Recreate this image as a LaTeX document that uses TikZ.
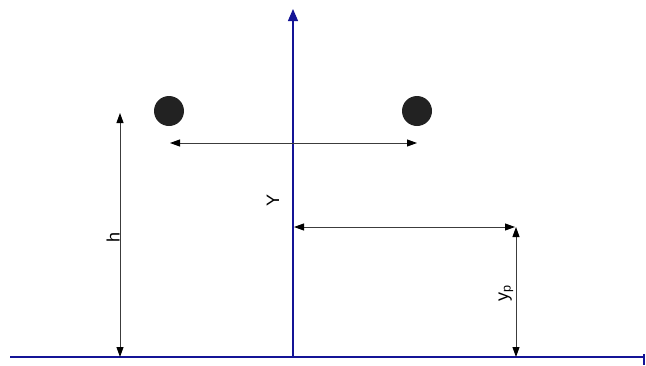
\documentclass[tikz,border=0pt]{standalone}
\usepackage{fontspec}
\setmainfont{Liberation Sans}
\usetikzlibrary{arrows.meta}
\begin{document}
\begin{tikzpicture}[x=1pt,y=-1pt,
  axis/.style={draw=axisblue,line width=1.2pt},
  dim/.style={draw=dimgray,line width=0.9pt,{Triangle[length=10pt,width=7pt,fill=black,color=black]}-{Triangle[length=10pt,width=7pt,fill=black,color=black]}},
  ball/.style={circle,fill=ballfill,minimum size=30pt,inner sep=0pt},
  lab/.style={font=\fontsize{18}{20}\selectfont,rotate=90,inner sep=0pt}]
\definecolor{axisblue}{RGB}{20,20,150}
\definecolor{dimgray}{RGB}{60,60,60}
\definecolor{ballfill}{RGB}{34,34,34}
\useasboundingbox (0,0) rectangle (646,365);
% axes
\coordinate (xl) at (10,357);
\coordinate (xr) at (644,357);
\coordinate (yb) at (293,357);
\coordinate (yt) at (293,9);
\draw[axis] (xl) -- (xr);
\draw[axisblue,line width=1.6pt] (644,354) -- (644,365);
\draw[axis,-{Triangle[length=12pt,width=10pt]}] (yb) -- (yt);
% balls
\node[ball] (b1) at (169,111) {};
\node[ball] (b2) at (417,111) {};
% dimension lines
\coordinate (d1a) at (170,143);
\coordinate (d1b) at (417,143);
\draw[dim] (d1a) -- (d1b);
\coordinate (ha) at (120,113);
\coordinate (hb) at (120,357);
\draw[dim] (ha) -- (hb);
\coordinate (ya) at (294,227);
\coordinate (yb2) at (515,227);
\draw[dim] (ya) -- (yb2);
\coordinate (pa) at (516,227);
\coordinate (pb) at (516,357);
\draw[dim] (pa) -- (pb);
% labels
\node[lab] (lY) at (273,200) {Y};
\node[lab] (lh) at (113,237) {h};
\node[lab] (lyp) at (506,293) {y\textsubscript{p}};
\end{tikzpicture}
\end{document}
